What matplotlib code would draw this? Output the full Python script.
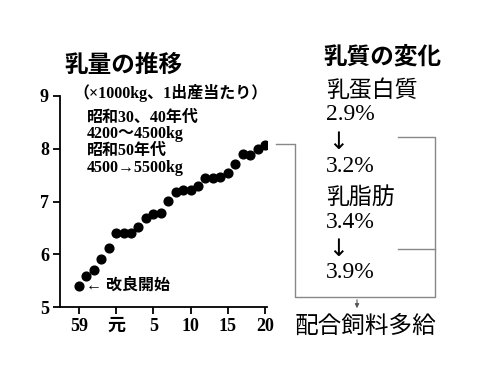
import matplotlib
matplotlib.use("Agg")
import matplotlib.pyplot as plt
from matplotlib.lines import Line2D

# milk yield per calving (x1000 kg), Showa 59 .. Heisei 20
milk_yield = [5.40, 5.59, 5.70, 5.91, 6.12, 6.41, 6.41, 6.41, 6.51, 6.69,
              6.77, 6.79, 7.01, 7.18, 7.22, 7.22, 7.29, 7.44, 7.44, 7.47,
              7.54, 7.72, 7.90, 7.89, 7.99, 8.07]
x_tick_pos = [0, 5, 10, 15, 20, 25]
x_tick_labels = ["59", "元", "5", "10", "15", "20"]
y_ticks = [5, 6, 7, 8, 9]

note_lines = ["昭和30、40年代", "4200〜4500kg", "昭和50年代", "4500→5500kg"]
quality_items = [("乳蛋白質", "2.9%", "3.2%"), ("乳脂肪", "3.4%", "3.9%")]

W, H = 500, 375
SERIF = ["Liberation Serif", "Noto Sans CJK JP"]
CJK = ["Noto Sans CJK JP", "DejaVu Sans"]


def px(x, y):
    return x / W, 1 - y / H


fig = plt.figure(figsize=(5, 3.75), dpi=100)
fig.patch.set_facecolor("white")

# main axes: y axis at x=60, y from 96 (9) to 307 (5)
l, b = px(60, 307)
r, t = px(267, 96)
ax = fig.add_axes([l, b, r - l, t - b])

xs = list(range(len(milk_yield)))
ax.plot(xs, milk_yield, "o", color="black", markersize=6.3)

ax.set_xlim(-2.55, 25.27)
ax.set_ylim(5, 9)
ax.spines["top"].set_visible(False)
ax.spines["right"].set_visible(False)
for s in ["left", "bottom"]:
    ax.spines[s].set_linewidth(1.3)
ax.set_xticks(x_tick_pos)
ax.set_xticklabels(x_tick_labels)
ax.set_yticks(y_ticks)
ax.tick_params(axis="both", direction="out", length=5, width=1.3, pad=3)
for lab in ax.get_xticklabels() + ax.get_yticklabels():
    lab.set_family(SERIF)
    lab.set_fontweight("bold")
    lab.set_fontsize(13)

# left side texts
fig.text(*px(123, 65), "乳量の推移", family=CJK, fontweight="bold",
         fontsize=17, ha="center", va="center")
fig.text(*px(73, 93), "（×1000kg、1出産当たり）", family=SERIF,
         fontweight="bold", fontsize=11.5, ha="left", va="center")
for i, line in enumerate(note_lines):
    fig.text(*px(87, 118 + i * 16.5), line, family=SERIF, fontweight="bold",
             fontsize=11.5, ha="left", va="center")
fig.text(*px(86, 286), "← 改良開始", family=SERIF, fontweight="bold",
         fontsize=11.5, ha="left", va="center")

# right side texts
fig.text(*px(382, 57), "乳質の変化", family=CJK, fontweight="bold",
         fontsize=17, ha="center", va="center")
y0 = 90
for name, before, after in quality_items:
    fig.text(*px(326, y0), name, family=CJK, fontsize=16.5, ha="left", va="center")
    fig.text(*px(326, y0 + 25), before, family=SERIF, fontsize=17, ha="left", va="center")
    fig.text(*px(338, y0 + 52), "↓", family=["DejaVu Sans"], fontsize=17,
             ha="center", va="center")
    fig.text(*px(326, y0 + 76), after, family=SERIF, fontsize=17, ha="left", va="center")
    y0 += 107
fig.text(*px(365, 326), "配合飼料多給", family=CJK, fontsize=17,
         ha="center", va="center")

# connector lines
gray = "#888888"
lines = [
    [(276, 144), (295, 144), (295, 297), (435, 297), (435, 137), (398, 137)],
    [(398, 249), (435, 249)],
]
for pts in lines:
    fx = [px(x, y)[0] for x, y in pts]
    fy = [px(x, y)[1] for x, y in pts]
    fig.add_artist(Line2D(fx, fy, color=gray, linewidth=1.0,
                          transform=fig.transFigure))
fig.add_artist(matplotlib.patches.FancyArrowPatch(
    px(357, 297), px(357, 311), transform=fig.transFigure,
    arrowstyle="-|>", mutation_scale=6, color="#555555", linewidth=0.8))

fig.savefig("out.png", dpi=100)
